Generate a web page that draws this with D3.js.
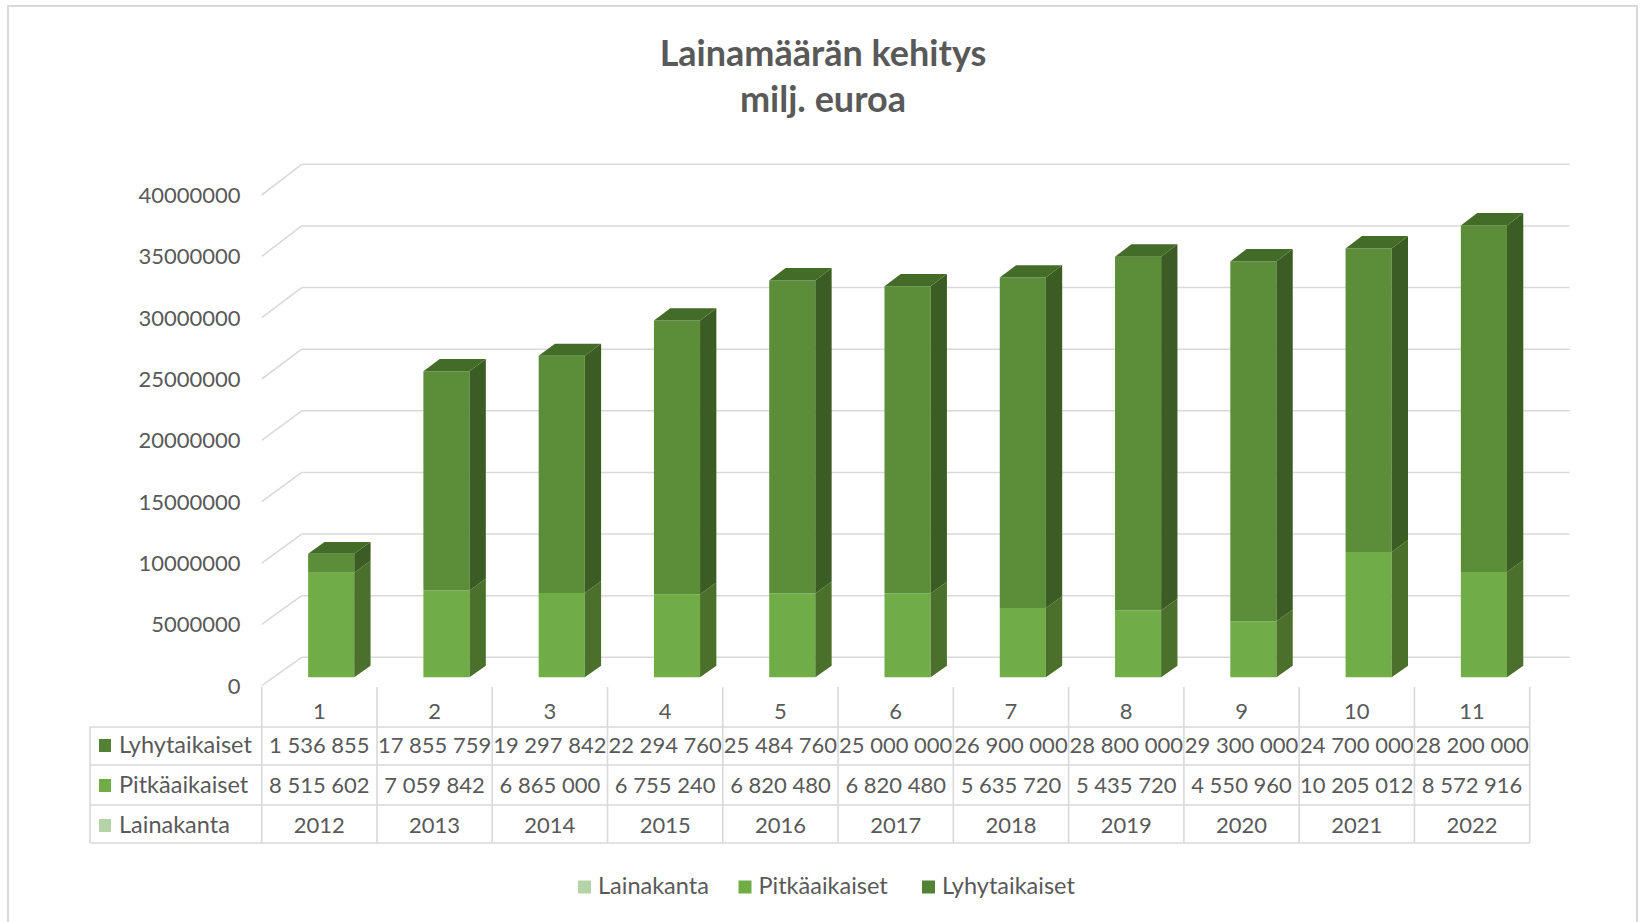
<!DOCTYPE html>
<html>
<head>
<meta charset="utf-8">
<script src="https://cdn.jsdelivr.net/npm/d3@7"></script>
<style>
  html, body { margin: 0; padding: 0; background: #ffffff; }
  svg { display: block; }
  text { font-family: Lato, "Open Sans", sans-serif; fill: #595959; }
</style>
</head>
<body>
<svg id="chart" width="1640" height="922"></svg>
<script>
// ---- data ----
const categories = ["1", "2", "3", "4", "5", "6", "7", "8", "9", "10", "11"];
const lainakanta = [2012, 2013, 2014, 2015, 2016, 2017, 2018, 2019, 2020, 2021, 2022];
const pitkaaikaiset = [8515602, 7059842, 6865000, 6755240, 6820480, 6820480, 5635720, 5435720, 4550960, 10205012, 8572916];
const lyhytaikaiset = [1536855, 17855759, 19297842, 22294760, 25484760, 25000000, 26900000, 28800000, 29300000, 24700000, 28200000];
const yTicks = [0, 5000000, 10000000, 15000000, 20000000, 25000000, 30000000, 35000000, 40000000];
const seriesNames = ["Lainakanta", "Pitkäaikaiset", "Lyhytaikaiset"];
const titleLines = ["Lainamäärän kehitys", "milj. euroa"];

// ---- styles ----
const colors = {
  "Lainakanta":    { front: "#A9D18E", side: "#7FA566", top: "#95BD7B", legend: "#B4D3A6" },
  "Pitkäaikaiset": { front: "#70AD47", side: "#4A702B", top: "#5E9139", legend: "#70AD47" },
  "Lyhytaikaiset": { front: "#5C8E39", side: "#3B5D23", top: "#436C29", legend: "#548235" }
};
const gridColor = "#d9d9d9";

const svg = d3.select("#chart");

// outer border
svg.append("rect").attr("x", 8).attr("y", 6).attr("width", 1629).attr("height", 920)
  .attr("fill", "none").attr("stroke", gridColor).attr("stroke-width", 2);

// title
svg.append("g").selectAll("text").data(titleLines).join("text")
  .attr("x", 823).attr("y", (d, i) => 66 + i * 46)
  .attr("text-anchor", "middle")
  .style("font-size", "36px").style("font-weight", "700")
  .text(d => d);

// ---- scales (oblique 3D projection: t=0 front plane, t=1 back wall) ----
const x = d3.scaleBand().domain(categories).range([261.7, 1529.7]).padding(0);
const yFront = d3.scaleLinear().domain([0, 40000000]).range([685.7, 195]);
const yBack  = d3.scaleLinear().domain([0, 40000000]).range([657.3, 164.3]);
const depthDX = 40;
const yAt = (v, t) => yFront(v) * (1 - t) + yBack(v) * t;
const xAt = (px, t) => px + depthDX * t;

// gridlines: back wall + left wall diagonals
const grid = svg.append("g").attr("stroke", gridColor).attr("stroke-width", 1.6).attr("fill", "none");
yTicks.forEach(v => {
  grid.append("line")
    .attr("x1", xAt(x.range()[0], 1)).attr("x2", xAt(x.range()[1], 1))
    .attr("y1", yBack(v)).attr("y2", yBack(v));
  grid.append("line")
    .attr("x1", x.range()[0]).attr("y1", yFront(v))
    .attr("x2", xAt(x.range()[0], 1)).attr("y2", yBack(v));
});

// y labels
svg.append("g").selectAll("text").data(yTicks).join("text")
  .attr("x", 240.6).attr("y", d => yFront(d) + 8)
  .attr("text-anchor", "end").style("font-size", "22px")
  .text(d => d3.format("d")(d));

// ---- bars ----
const rows = categories.map((c, i) => ({
  cat: c,
  "Lainakanta": lainakanta[i],
  "Pitkäaikaiset": pitkaaikaiset[i],
  "Lyhytaikaiset": lyhytaikaiset[i]
}));
const stacked = d3.stack().keys(seriesNames)(rows);
const barW = x.bandwidth() * 0.4;
const tF = 0.296, tB = 0.704;
const barsG = svg.append("g");

categories.forEach((c, i) => {
  const xl = x(c) + (x.bandwidth() - barW) / 2;
  const xr = xl + barW;
  stacked.forEach((s, si) => {
    const [v0, v1] = s[i];
    const col = colors[s.key];
    const g = barsG.append("g");
    g.append("polygon").attr("fill", col.front).attr("points", [
      [xAt(xl, tF), yAt(v1, tF)], [xAt(xr, tF), yAt(v1, tF)],
      [xAt(xr, tF), yAt(v0, tF)], [xAt(xl, tF), yAt(v0, tF)]
    ].map(p => p.join(",")).join(" "));
    g.append("polygon").attr("fill", col.side).attr("points", [
      [xAt(xr, tF), yAt(v1, tF)], [xAt(xr, tB), yAt(v1, tB)],
      [xAt(xr, tB), yAt(v0, tB)], [xAt(xr, tF), yAt(v0, tF)]
    ].map(p => p.join(",")).join(" "));
    if (si === stacked.length - 1) {
      g.append("polygon").attr("fill", col.top).attr("points", [
        [xAt(xl, tF), yAt(v1, tF)], [xAt(xr, tF), yAt(v1, tF)],
        [xAt(xr, tB), yAt(v1, tB)], [xAt(xl, tB), yAt(v1, tB)]
      ].map(p => p.join(",")).join(" "));
    }
  });
});

// ---- data table ----
const tableLeft = 90;
const rowLines = [727, 765, 805, 843];
const tbl = svg.append("g").attr("stroke", gridColor).attr("stroke-width", 1.6);
d3.range(categories.length + 1).forEach(i => {
  const px = x.range()[0] + i * x.step();
  tbl.append("line").attr("x1", px).attr("x2", px).attr("y1", 687).attr("y2", 843);
});
rowLines.forEach(ry => {
  tbl.append("line").attr("x1", tableLeft).attr("x2", x.range()[1]).attr("y1", ry).attr("y2", ry);
});
tbl.append("line").attr("x1", tableLeft).attr("x2", tableLeft).attr("y1", 727).attr("y2", 843);

svg.append("g").selectAll("text").data(categories).join("text")
  .attr("x", d => x(d) + x.bandwidth() / 2).attr("y", 719)
  .attr("text-anchor", "middle").style("font-size", "22px").text(d => d);

const spaceFmt = d3.formatLocale({ decimal: ",", thousands: " ", grouping: [3], currency: ["", "€"] }).format(",d");
const tableRows = [
  { name: "Lyhytaikaiset", values: lyhytaikaiset, fmt: spaceFmt, base: 753 },
  { name: "Pitkäaikaiset", values: pitkaaikaiset, fmt: spaceFmt, base: 793 },
  { name: "Lainakanta", values: lainakanta, fmt: d => String(d), base: 833 }
];
tableRows.forEach(r => {
  const g = svg.append("g");
  g.append("rect").attr("x", 99).attr("y", r.base - 14).attr("width", 12).attr("height", 13)
    .attr("fill", colors[r.name].legend);
  g.append("text").attr("x", 119).attr("y", r.base).style("font-size", "23.5px").text(r.name);
  g.selectAll("text.v").data(r.values).join("text").attr("class", "v")
    .attr("x", (d, i) => x(categories[i]) + x.bandwidth() / 2).attr("y", r.base)
    .attr("text-anchor", "middle").style("font-size", "22px").text(d => r.fmt(d));
});

// ---- legend ----
const legendItems = [
  { name: "Lainakanta", sx: 578, tx: 598 },
  { name: "Pitkäaikaiset", sx: 738.5, tx: 758.5 },
  { name: "Lyhytaikaiset", sx: 922, tx: 942 }
];
const lg = svg.append("g");
legendItems.forEach(it => {
  lg.append("rect").attr("x", it.sx).attr("y", 880.5).attr("width", 13).attr("height", 13)
    .attr("fill", colors[it.name].legend);
  lg.append("text").attr("x", it.tx).attr("y", 894).style("font-size", "23.5px").text(it.name);
});
</script>
</body>
</html>
